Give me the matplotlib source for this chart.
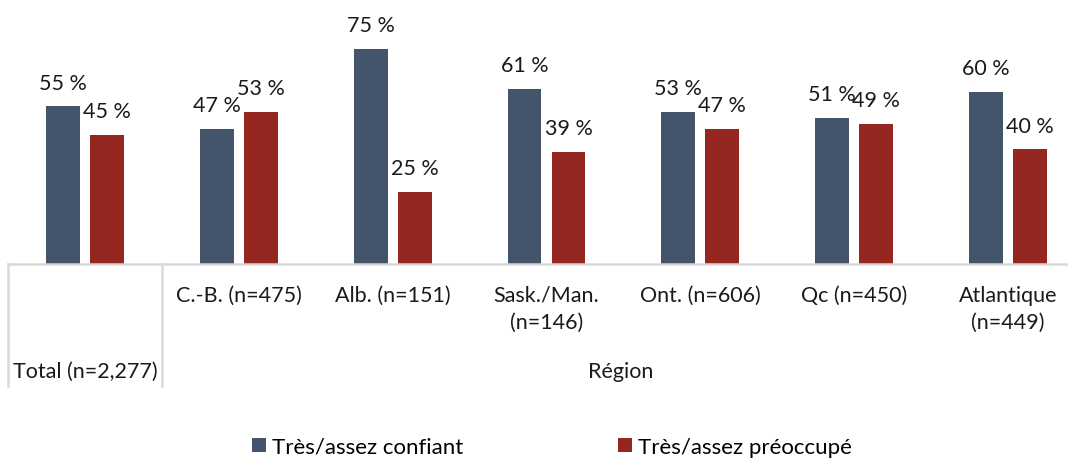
import matplotlib.pyplot as plt
import numpy as np

plt.rcParams['font.family'] = ['Lato', 'DejaVu Sans']

# donnees
categories = ['Total (n=2,277)', 'C.-B. (n=475)', 'Alb. (n=151)', 'Sask./Man.\n(n=146)',
              'Ont. (n=606)', 'Qc (n=450)', 'Atlantique\n(n=449)']
confiant = [55, 47, 75, 61, 53, 51, 60]
preoccupe = [45, 53, 25, 39, 47, 49, 40]
series = ['Très/assez confiant', 'Très/assez préoccupé']
groupe = 'Région'

bleu = '#44546A'
rouge = '#952720'
gris = '#D9D9D9'
texte = '#1a1a1a'
taille = 15.5

fig = plt.figure(figsize=(10.68, 4.6), dpi=100)
# l'axe depasse un peu a droite comme dans l'original
ax = fig.add_axes([8 / 1068, 1 - 265 / 460, 1077 / 1068, 265 / 460])

x = np.arange(len(categories))
larg = 0.22
dec = 0.143
b1 = ax.bar(x - dec, confiant, larg, color=bleu, label=series[0])
b2 = ax.bar(x + dec, preoccupe, larg, color=rouge, label=series[1])

for barres in (b1, b2):
    for b in barres:
        ax.annotate(f'{b.get_height():.0f} %', (b.get_x() + b.get_width() / 2, b.get_height()),
                    xytext=(0, 10), textcoords='offset points', ha='center', va='bottom',
                    fontsize=taille, color=texte)

ax.set_xlim(-0.5, len(categories) - 0.5)
ax.set_ylim(0, 92.5)
for s in ['top', 'right', 'left']:
    ax.spines[s].set_visible(False)
ax.spines['bottom'].set_color(gris)
ax.spines['bottom'].set_linewidth(1.8)
ax.set_xticks([])
ax.set_yticks([])

# axe a deux niveaux (style Excel)
trans = ax.get_xaxis_transform()
bas = -(387 - 265) / 265
for xs in (-0.5, 0.5):
    ax.plot([xs, xs], [0, bas], color=gris, lw=1.8, transform=trans, clip_on=False)

for i, c in enumerate(categories[1:], start=1):
    ax.text(i, -(286 - 265) / 265, c, transform=trans, ha='center', va='top', fontsize=taille,
            linespacing=1.4, color=texte)
ax.text(0, -(372 - 265) / 265, categories[0], transform=trans, ha='center', va='center',
        fontsize=taille, color=texte)
ax.text((0.5 + len(categories) - 0.5) / 2 - 0.02, -(372 - 265) / 265, groupe, transform=trans,
        ha='center', va='center', fontsize=taille, color=texte)

fig.legend(handles=[b1, b2], labels=series, loc='center', bbox_to_anchor=(552 / 1068, 1 - 448 / 460),
           ncol=2, frameon=False, fontsize=16, handlelength=0.63, handleheight=0.63,
           handletextpad=0.27, columnspacing=7.0)

fig.savefig('out.png', dpi=100)
